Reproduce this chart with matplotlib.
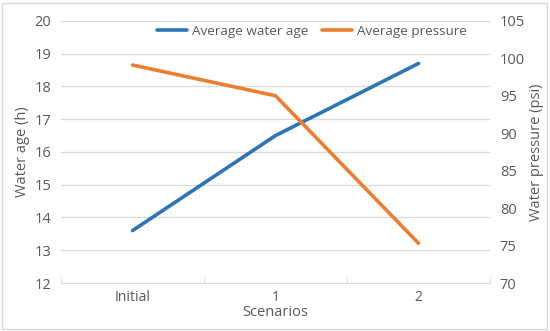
import matplotlib
matplotlib.use("Agg")
import matplotlib.pyplot as plt
from matplotlib.patches import Rectangle

scenarios = ["Initial", "1", "2"]
water_age = [13.6, 16.5, 18.7]
pressure = [99.1, 95.0, 75.3]

plt.rcParams['font.family'] = ['Open Sans', 'DejaVu Sans']
txt = '#595959'
grid = '#d9d9d9'

fig = plt.figure(figsize=(5.5, 3.31), dpi=100)
ax = fig.add_axes([0.111, 0.145, 0.78, 0.792])
ax2 = ax.twinx()

x = range(len(scenarios))
l1, = ax.plot(x, water_age, color='#2e75b6', lw=2.6, label='Average water age', solid_capstyle='round')
l2, = ax2.plot(x, pressure, color='#ed7d31', lw=2.6, label='Average pressure', solid_capstyle='round')

ax.set_xlim(-0.5, 2.5)
ax.set_ylim(12, 20)
ax2.set_ylim(70, 105)
ax.set_yticks(range(12, 21))
ax2.set_yticks(range(70, 106, 5))
ax.set_xticks(list(x))
ax.set_xticklabels(scenarios)
ax.set_xticks([-0.5, 0.5, 1.5, 2.5], minor=True)

ax.grid(axis='y', color=grid, lw=0.9)
ax.set_axisbelow(True)
for a in (ax, ax2):
    for s in a.spines.values():
        s.set_visible(False)
    a.tick_params(axis='y', length=0, colors=txt, labelsize=10.5)
ax.spines['bottom'].set_visible(True)
ax.spines['bottom'].set_color(grid)
ax.tick_params(axis='x', which='major', length=0, colors=txt, labelsize=10, pad=5)
ax.tick_params(axis='x', which='minor', length=4, color=grid, direction='in')
ax.tick_params(axis='y', pad=7)
ax2.tick_params(axis='y', pad=7)

ax.set_xlabel('Scenarios', color=txt, fontsize=10.5, labelpad=0)
ax.set_ylabel('Water age (h)', color=txt, fontsize=10.5, labelpad=3)
ax2.set_ylabel('Water pressure (psi)', color=txt, fontsize=10.5, labelpad=3)

leg = ax.legend([l1, l2], ['Average water age', 'Average pressure'], loc='upper center',
                bbox_to_anchor=(0.585, 1.03), ncol=2, frameon=False, fontsize=9.7,
                handlelength=2.2, columnspacing=1.0, handletextpad=0.4)
for t in leg.get_texts():
    t.set_color(txt)

fig.patches.append(Rectangle((0.004, 0.006), 0.99, 0.985, transform=fig.transFigure,
                             fill=False, edgecolor='#d9d9d9', lw=1))

fig.savefig('out.png', dpi=100)
